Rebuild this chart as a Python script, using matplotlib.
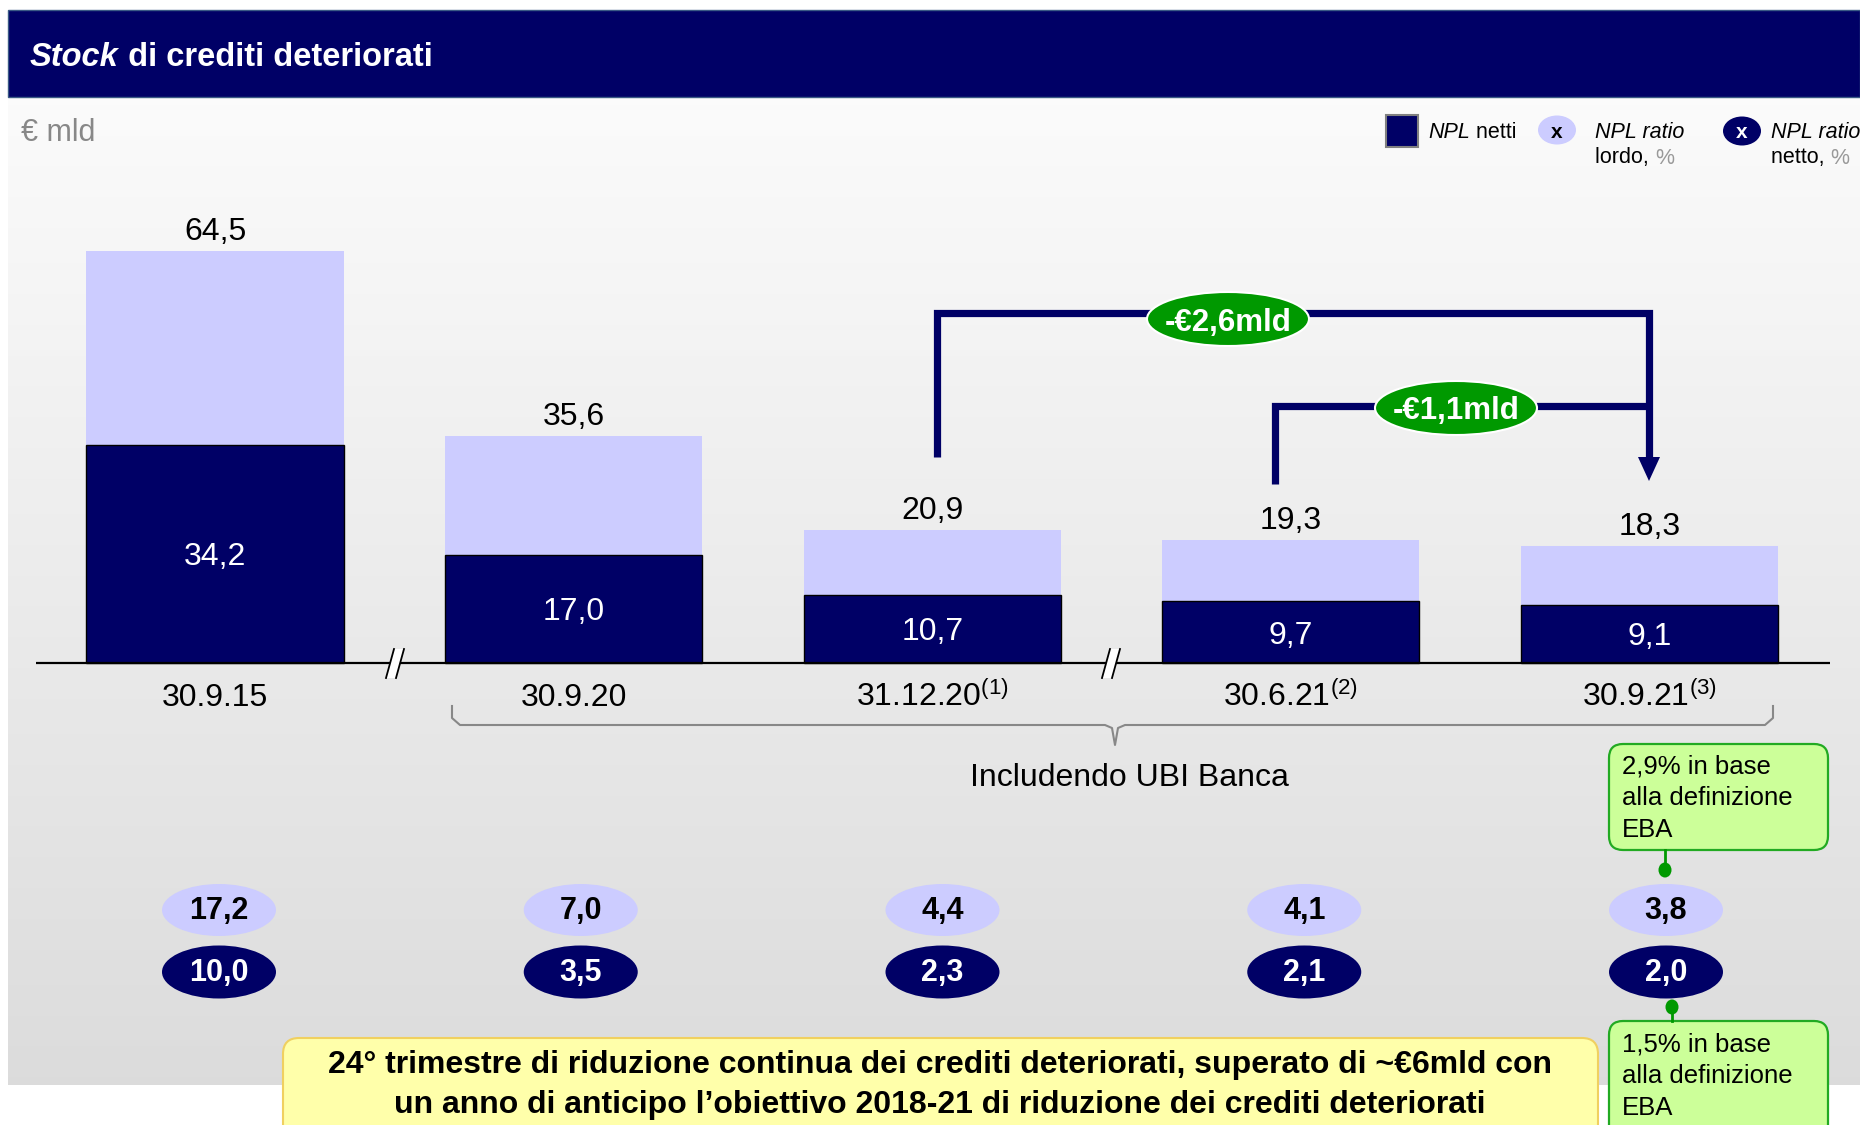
import matplotlib
matplotlib.use("Agg")
import matplotlib.pyplot as plt
from matplotlib.patches import Rectangle, Ellipse, FancyBboxPatch, Polygon
import numpy as np

plt.rcParams['font.family'] = ['Liberation Sans', 'DejaVu Sans']
plt.rcParams['mathtext.fontset'] = 'custom'
plt.rcParams['mathtext.rm'] = 'Liberation Sans'
plt.rcParams['mathtext.it'] = 'Liberation Sans:italic'
plt.rcParams['mathtext.bf'] = 'Liberation Sans:bold'

# ---------------- data ----------------
categories = ["30.9.15", "30.9.20", "31.12.20", "30.6.21", "30.9.21"]
notes = ["", "", "(1)", "(2)", "(3)"]
npl_lordi = [64.5, 35.6, 20.9, 19.3, 18.3]
npl_netti = [34.2, 17.0, 10.7, 9.7, 9.1]
ratio_lordo = [17.2, 7.0, 4.4, 4.1, 3.8]
ratio_netto = [10.0, 3.5, 2.3, 2.1, 2.0]
reductions = ["-€2,6mld", "-€1,1mld"]
group_label = "Includendo UBI Banca"
eba_lordo = "2,9% in base\nalla definizione\nEBA"
eba_netto = "1,5% in base\nalla definizione\nEBA"
footer = ("24° trimestre di riduzione continua dei crediti deteriorati, superato di ~€6mld con\n"
          "un anno di anticipo l’obiettivo 2018-21 di riduzione dei crediti deteriorati")

NAVY = '#000066'
LAV = '#ccccff'
GREEN = '#009900'
W, H = 1860, 1125
PT = 0.72  # points per pixel at dpi 100

def fmt(v):
    return f"{v:.1f}".replace(".", ",")

fig = plt.figure(figsize=(W / 100, H / 100), dpi=100)

# background / overlay axes in pixel coordinates
bg = fig.add_axes([0, 0, 1, 1], zorder=0)
bg.set_xlim(0, W); bg.set_ylim(H, 0); bg.axis('off')
ov = fig.add_axes([0, 0, 1, 1], zorder=3)
ov.set_xlim(0, W); ov.set_ylim(H, 0); ov.axis('off')

# gradient panel
g = np.linspace(0.985, 0.862, 256)
img = np.dstack([g, g, g]).reshape(256, 1, 3)
bg.imshow(img, extent=[8, W, 1085, 97], aspect='auto', origin='upper', zorder=0)
bg.set_xlim(0, W); bg.set_ylim(H, 0)

# title bar
bg.add_patch(Rectangle((8, 10), W - 8, 87, fc=NAVY, ec='#3a5a85', lw=1, zorder=2))
t1 = bg.text(30, 57, "Stock", color='white', fontsize=23.5, fontweight='bold',
             fontstyle='italic', va='center', ha='left', zorder=3)
bg.annotate(" di crediti deteriorati", xy=(1, 0), xycoords=t1, va='bottom', ha='left',
            color='white', fontsize=23.5, fontweight='bold', zorder=3)

# unit label
bg.text(21, 133, "€ mld", color='#888888', fontsize=22, va='center', ha='left', zorder=3)

# ---------------- bars ----------------
ax = fig.add_axes([0, 0, 1, 1], zorder=1)
ax.axis('off')
x = np.arange(len(categories))
ax.set_xlim(-215 / 358.6, (W - 215) / 358.6)
ax.set_ylim(-(H - 663) / 6.38, 663 / 6.38)
bw = 0.717
ax.bar(x, npl_lordi, width=bw, color=LAV, edgecolor='none', zorder=2)
ax.bar(x, npl_netti, width=bw, color=NAVY, edgecolor='black', lw=1, zorder=3)
ax.plot([-0.5, 4.505], [0, 0], color='black', lw=1.6, zorder=4, solid_capstyle='butt')

for i in range(len(categories)):
    ax.annotate(fmt(npl_lordi[i]), xy=(i, npl_lordi[i]), xytext=(0, 11 * PT),
                textcoords='offset points', ha='center', va='baseline', fontsize=23, color='black')
    ax.text(i, npl_netti[i] / 2, fmt(npl_netti[i]), ha='center', va='center_baseline',
            fontsize=23, color='white', zorder=5)
    lab = categories[i] + (r"$^{\mathrm{" + notes[i] + "}}$" if notes[i] else "")
    ax.annotate(lab, xy=(i, 0), xytext=(0, -43 * PT), textcoords='offset points',
                ha='center', va='baseline', fontsize=23, color='black')

# axis break marks
for bx in (395, 1111):
    ov.add_patch(Polygon([(bx - 9, 678), (bx - 1, 649), (bx + 9, 649), (bx + 1, 678)],
                         closed=True, fc='white', ec='none', zorder=5))
    ov.plot([bx - 9, bx - 1], [678, 649], color='black', lw=1.3, zorder=6)
    ov.plot([bx + 1, bx + 9], [678, 649], color='black', lw=1.3, zorder=6)

# brace "Includendo UBI Banca"
bc = '#888888'
ov.plot([452, 452, 460, 1105, 1112, 1115, 1118, 1125, 1765, 1773, 1773],
        [706, 718, 725, 725, 728, 745, 728, 725, 725, 718, 706], color=bc, lw=1.5, zorder=4)
ov.text(1129, 778, group_label, fontsize=23, ha='center', va='center', color='black', zorder=4)

# reduction arrows
lw_arr = 5.2
ov.plot([937, 937, 1649, 1649], [457, 313, 313, 458], color=NAVY, lw=lw_arr,
        solid_joinstyle='miter', solid_capstyle='butt', zorder=4)
ov.plot([1275, 1275, 1649], [484, 406, 406], color=NAVY, lw=lw_arr,
        solid_joinstyle='miter', solid_capstyle='butt', zorder=4)
ov.add_patch(Polygon([(1638, 457), (1660, 457), (1649, 481)], closed=True, fc=NAVY, ec='none', zorder=4))
for (cx, cy), txt in zip([(1228, 319), (1456, 408)], reductions):
    ov.add_patch(Ellipse((cx, cy), 162, 54, fc=GREEN, ec='white', lw=1.5, zorder=5))
    ov.text(cx, cy, txt, color='white', fontsize=22.5, fontweight='bold', ha='center',
            va='center_baseline', zorder=6)

# ---------------- ratio ovals ----------------
ax2 = fig.add_axes([0, 0, 1, 1], zorder=2)
ax2.axis('off')
ax2.set_xlim(-219 / 361.75, (W - 219) / 361.75)
ax2.set_ylim(H, 0)
ow = 114 / 361.75
for i in range(len(categories)):
    ax2.add_patch(Ellipse((i, 910), ow, 52, fc=LAV, ec='none'))
    ax2.text(i, 908, fmt(ratio_lordo[i]), ha='center', va='center_baseline', fontsize=22,
             fontweight='bold', color='black')
    ax2.add_patch(Ellipse((i, 972), ow, 53, fc=NAVY, ec='none'))
    ax2.text(i, 970, fmt(ratio_netto[i]), ha='center', va='center_baseline', fontsize=22,
             fontweight='bold', color='white')

# ---------------- EBA callouts ----------------
CB_FC, CB_EC = '#ccff99', '#22aa22'
ov.add_patch(FancyBboxPatch((1609, 744), 219, 106, boxstyle='round,pad=0,rounding_size=14',
                            fc=CB_FC, ec=CB_EC, lw=1.6, zorder=6))
ov.text(1622, 798, eba_lordo, fontsize=18.5, ha='left', va='center', linespacing=1.42, zorder=7)
ov.plot([1665, 1665], [850, 870], color=GREEN, lw=2, zorder=6)
ov.add_patch(Ellipse((1665, 870), 13, 15, fc=GREEN, ec='none', zorder=6))

ov.add_patch(FancyBboxPatch((1609, 1021), 219, 130, boxstyle='round,pad=0,rounding_size=14',
                            fc=CB_FC, ec=CB_EC, lw=1.6, zorder=6))
ov.text(1622, 1076, eba_netto, fontsize=18.5, ha='left', va='center', linespacing=1.42, zorder=7)
ov.plot([1672, 1672], [1007, 1021], color=GREEN, lw=2, zorder=6)
ov.add_patch(Ellipse((1672, 1007), 13, 15, fc=GREEN, ec='none', zorder=6))

# ---------------- footer box ----------------
ov.add_patch(FancyBboxPatch((283, 1038), 1315, 130, boxstyle='round,pad=0,rounding_size=16',
                            fc='#ffffaa', ec='#f0d060', lw=1.5, zorder=6))
ov.text(940, 1085, footer, fontsize=23, fontweight='bold', ha='center', va='center',
        linespacing=1.42, zorder=7)

# ---------------- legend ----------------
ov.add_patch(Rectangle((1386, 115), 32, 32, fc=NAVY, ec='#808080', lw=1.5, zorder=6))
l1 = ov.text(1428, 132, "NPL", fontsize=15.5, fontstyle='italic', va='center', ha='left', zorder=6)
ov.annotate(" netti", xy=(1, 0), xycoords=l1, va='bottom', ha='left', fontsize=15.5, zorder=6)

ov.add_patch(Ellipse((1557, 130), 38, 29, fc=LAV, ec='none', zorder=6))
ov.text(1557, 130, "x", fontsize=15, fontweight='bold', ha='center', va='center_baseline', zorder=7)
ov.text(1595, 132, "NPL ratio", fontsize=15.5, fontstyle='italic', va='center', ha='left', zorder=6)
l2 = ov.text(1595, 158, "lordo, ", fontsize=15.5, va='center', ha='left', zorder=6)
ov.annotate("%", xy=(1, 0), xycoords=l2, va='bottom', ha='left', fontsize=15.5, color='#999999', zorder=6)

ov.add_patch(Ellipse((1742, 131), 38, 29, fc=NAVY, ec='none', zorder=6))
ov.text(1742, 131, "x", fontsize=15, fontweight='bold', color='white', ha='center',
        va='center_baseline', zorder=7)
ov.text(1771, 132, "NPL ratio", fontsize=15.5, fontstyle='italic', va='center', ha='left', zorder=6)
l3 = ov.text(1771, 158, "netto, ", fontsize=15.5, va='center', ha='left', zorder=6)
ov.annotate("%", xy=(1, 0), xycoords=l3, va='bottom', ha='left', fontsize=15.5, color='#999999', zorder=6)

fig.savefig("out.png", dpi=100)
